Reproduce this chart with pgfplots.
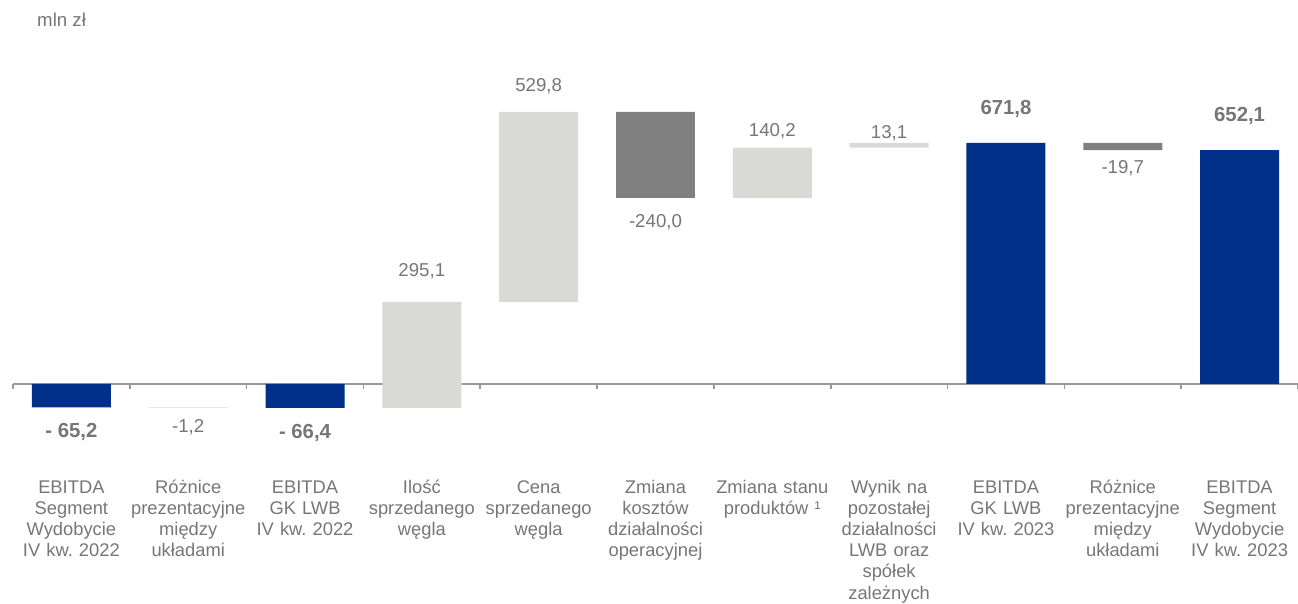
\documentclass[border=0pt]{standalone}
\usepackage{pgfplots}
\pgfplotsset{compat=1.18}
\usepackage{fontspec}
\setmainfont{Liberation Sans}
\frenchspacing
\definecolor{navy}{HTML}{003087}
\definecolor{lgray}{HTML}{D9D9D6}
\definecolor{dgray}{HTML}{808080}
\definecolor{txt}{HTML}{767676}
\definecolor{axgray}{HTML}{999999}
\begin{document}
\begin{tikzpicture}
\begin{axis}[
  scale only axis,
  width=771pt, height=361.8pt,
  xmin=-0.5, xmax=10.5,
  ymin=-610.4, ymax=1070.2,
  hide axis,
  clip=false,
  ybar stacked,
  stack negative=on previous,
  bar width=0.676,
]
% invisible base
\addplot[draw=none, fill=none] coordinates {
 (0,0) (1,-65.2) (2,0) (3,-66.4) (4,228.7) (5,758.5) (6,518.5) (7,658.7) (8,0) (9,671.8) (10,0)};
% totals
\addplot[draw=none, fill=navy] coordinates {
 (0,-65.2) (1,0) (2,-66.4) (3,0) (4,0) (5,0) (6,0) (7,0) (8,671.8) (9,0) (10,652.1)};
% increases
\addplot[draw=none, fill=lgray] coordinates {
 (0,0) (1,-1.2) (2,0) (3,295.1) (4,529.8) (5,0) (6,140.2) (7,13.1) (8,0) (9,0) (10,0)};
% decreases
\addplot[draw=none, fill=dgray] coordinates {
 (0,0) (1,0) (2,0) (3,0) (4,0) (5,-240.0) (6,0) (7,0) (8,0) (9,-19.7) (10,0)};

% zero line and boundary ticks
\draw[axgray, line width=1.2pt] (axis cs:-0.5,0) -- (axis cs:10.5,0);
\pgfplotsinvokeforeach{-0.5,0.5,1.5,2.5,3.5,4.5,5.5,6.5,7.5,8.5,9.5,10.5}{
  \draw[axgray, line width=1pt] (axis cs:#1,0) -- (axis cs:#1,-14);
}

% value labels
\tikzset{vl/.style={font=\fontsize{11.2pt}{13pt}\selectfont, text=txt, inner sep=0pt, anchor=center},
         vb/.style={vl, font=\fontsize{12.2pt}{14pt}\selectfont\bfseries}}
\node[vb] at (axis cs:0,-133.8) {- 65,2};
\node[vl] at (axis cs:1,-119.8) {-1,2};
\node[vb] at (axis cs:2,-136.6) {- 66,4};
\node[vl] at (axis cs:3,314.9) {295,1};
\node[vl] at (axis cs:4,830.5) {529,8};
\node[vl] at (axis cs:5,451.5) {-240,0};
\node[vl] at (axis cs:6,705.1) {140,2};
\node[vl] at (axis cs:7,699.6) {13,1};
\node[vb] at (axis cs:8,766.4) {671,8};
\node[vl] at (axis cs:9,602.0) {-19,7};
\node[vb] at (axis cs:10,746.9) {652,1};

% unit
\node[vl, anchor=west] at (axis cs:-0.295,1014.5) {mln zł};

% category labels
\tikzset{cl/.style={font=\fontsize{11pt}{12.7pt}\selectfont, text=txt, inner sep=0pt, anchor=north, align=center, text width=76pt}}
\newcommand{\st}{\rule{0pt}{10pt}}
\node[cl] at (axis cs:0,-257.2) {\st EBITDA\\Segment\\Wydobycie\\IV kw. 2022};
\node[cl] at (axis cs:1,-257.2) {\st Różnice\\prezentacyjne\\między\\układami};
\node[cl] at (axis cs:2,-257.2) {\st EBITDA\\GK LWB\\IV kw. 2022};
\node[cl] at (axis cs:3,-257.2) {\st Ilość\\sprzedanego\\węgla};
\node[cl] at (axis cs:4,-257.2) {\st Cena\\sprzedanego\\węgla};
\node[cl] at (axis cs:5,-257.2) {\st Zmiana\\kosztów\\działalności\\operacyjnej};
\node[cl] at (axis cs:6,-257.2) {\st Zmiana stanu\\produktów ¹};
\node[cl] at (axis cs:7,-257.2) {\st Wynik na\\pozostałej\\działalności\\LWB oraz\\spółek\\zależnych};
\node[cl] at (axis cs:8,-257.2) {\st EBITDA\\GK LWB\\IV kw. 2023};
\node[cl] at (axis cs:9,-257.2) {\st Różnice\\prezentacyjne\\między\\układami};
\node[cl] at (axis cs:10,-257.2) {\st EBITDA\\Segment\\Wydobycie\\IV kw. 2023};

\coordinate (bl) at (axis cs:-0.611,-610.4);
\coordinate (tr) at (axis cs:10.5,1070.2);
\end{axis}
\pgfresetboundingbox
\path[use as bounding box] (bl) rectangle (tr);
\end{tikzpicture}
\end{document}
